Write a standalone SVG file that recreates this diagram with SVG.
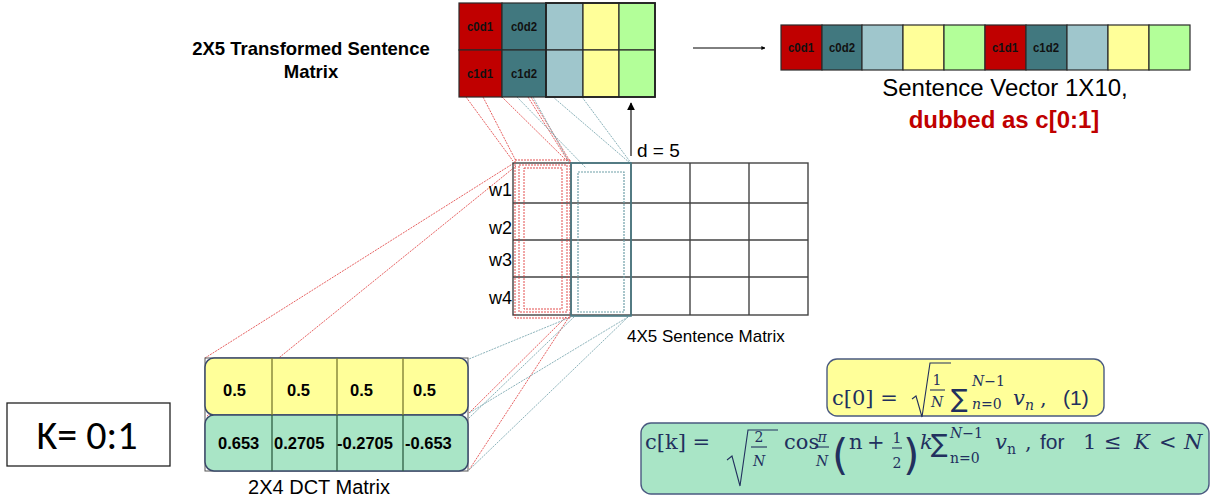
<svg xmlns="http://www.w3.org/2000/svg" width="1215" height="497" viewBox="0 0 1215 497">
<defs>
<style>
.sans{font-family:"Liberation Sans",Arial,sans-serif;fill:#000}
.cell{stroke:#2a2a2a;stroke-width:1.2}
.ct{font-family:"Liberation Sans",Arial,sans-serif;font-weight:bold;font-size:13px;text-anchor:middle;fill:#111}
.grid{stroke:#444;stroke-width:1.4;fill:none}
.rd{stroke:#e03a3a;stroke-width:0.8;stroke-dasharray:2 1;fill:none}
.td{stroke:#6f9fa8;stroke-width:0.8;stroke-dasharray:2 1;fill:none}
.val{font-family:"Liberation Sans",Arial,sans-serif;font-weight:bold;font-size:16.5px;fill:#000}
.m{font-family:"DejaVu Serif","DejaVu Sans",serif;fill:#22305e;font-size:21px}
.ms{font-family:"DejaVu Serif","DejaVu Sans",serif;fill:#22305e;font-size:14px}
.sum{font-family:"DejaVu Sans",sans-serif;fill:#22305e;font-size:25px}
.par{font-family:"DejaVu Sans",sans-serif;fill:#22305e;font-size:42px}
.fl{stroke:#22305e;stroke-width:1.1;fill:none}
.ms2{font-family:"Liberation Sans",Arial,sans-serif;fill:#22305e;font-size:21px}
</style>
<marker id="ah" viewBox="0 0 10 10" refX="9" refY="5" markerWidth="7" markerHeight="7" orient="auto"><path d="M0,0 L10,5 L0,10 z" fill="#000"/></marker>
<marker id="ahs" viewBox="0 0 10 10" refX="9" refY="5" markerWidth="4" markerHeight="4" orient="auto"><path d="M0,0 L10,5 L0,10 z" fill="#000"/></marker>
</defs>
<rect width="1215" height="497" fill="#fff"/>

<g id="connectors">
<line class="rd" x1="466" y1="97" x2="513" y2="161"/>
<line class="rd" x1="483" y1="97" x2="516" y2="161"/>
<line class="rd" x1="502" y1="97" x2="567" y2="161"/>
<line class="rd" x1="528" y1="97" x2="568" y2="161"/>
<line class="rd" x1="531" y1="97" x2="571" y2="163"/>
<line class="td" x1="517" y1="97" x2="586" y2="168"/>
<line class="td" x1="533" y1="97" x2="569" y2="162"/>
<line class="td" x1="553" y1="97" x2="630" y2="163"/>
<line class="td" x1="582" y1="97" x2="631" y2="163"/>
<line class="rd" x1="205" y1="358" x2="514" y2="163"/>
<line class="rd" x1="207" y1="416" x2="516" y2="166"/>
<line class="rd" x1="566" y1="317" x2="469" y2="413"/>
<line class="rd" x1="569" y1="317" x2="469" y2="470"/>
<line class="td" x1="571" y1="317" x2="469" y2="359"/>
<line class="td" x1="574" y1="317" x2="469" y2="418"/>
<line class="td" x1="628" y1="317" x2="469" y2="413"/>
<line class="td" x1="628" y1="317" x2="469" y2="470"/>
<line x1="631" y1="156" x2="631" y2="103" stroke="#000" stroke-width="1.1" marker-end="url(#ah)"/>
<line x1="693" y1="48" x2="765" y2="48" stroke="#000" stroke-width="1" marker-end="url(#ahs)"/>
</g>

<g id="transformed-matrix">
<rect class="cell" x="459" y="3" width="43" height="47" fill="#c00000"/>
<rect class="cell" x="502" y="3" width="44" height="47" fill="#41787f"/>
<rect class="cell" x="546" y="3" width="37" height="47" fill="#9fc6cc"/>
<rect class="cell" x="583" y="3" width="36" height="47" fill="#ffff99"/>
<rect class="cell" x="619" y="3" width="36" height="47" fill="#b3ff99"/>
<rect class="cell" x="459" y="50" width="43" height="47" fill="#c00000"/>
<rect class="cell" x="502" y="50" width="44" height="47" fill="#41787f"/>
<rect class="cell" x="546" y="50" width="37" height="47" fill="#9fc6cc"/>
<rect class="cell" x="583" y="50" width="36" height="47" fill="#ffff99"/>
<rect class="cell" x="619" y="50" width="36" height="47" fill="#b3ff99"/>
<rect x="546" y="3" width="109" height="94" fill="none" stroke="#222" stroke-width="1.8"/>
<text class="ct" x="480" y="31" textLength="26" lengthAdjust="spacingAndGlyphs">c0d1</text>
<text class="ct" x="524" y="31" textLength="26" lengthAdjust="spacingAndGlyphs">c0d2</text>
<text class="ct" x="480" y="78" textLength="26" lengthAdjust="spacingAndGlyphs">c1d1</text>
<text class="ct" x="524" y="78" textLength="26" lengthAdjust="spacingAndGlyphs">c1d2</text>
<text class="sans" x="311" y="55" font-size="18.5" font-weight="bold" text-anchor="middle">2X5 Transformed Sentence</text>
<text class="sans" x="311" y="78" font-size="18.5" font-weight="bold" text-anchor="middle">Matrix</text>
</g>

<g id="sentence-vector">
<rect class="cell" x="781" y="25" width="41" height="45" fill="#c00000"/>
<rect class="cell" x="822" y="25" width="40" height="45" fill="#41787f"/>
<rect class="cell" x="862" y="25" width="41" height="45" fill="#9fc6cc"/>
<rect class="cell" x="903" y="25" width="41" height="45" fill="#ffff99"/>
<rect class="cell" x="944" y="25" width="41" height="45" fill="#b3ff99"/>
<rect class="cell" x="985" y="25" width="41" height="45" fill="#c00000"/>
<rect class="cell" x="1026" y="25" width="41" height="45" fill="#41787f"/>
<rect class="cell" x="1067" y="25" width="41" height="45" fill="#9fc6cc"/>
<rect class="cell" x="1108" y="25" width="41" height="45" fill="#ffff99"/>
<rect class="cell" x="1149" y="25" width="41" height="45" fill="#b3ff99"/>
<text class="ct" x="801" y="52" textLength="26" lengthAdjust="spacingAndGlyphs">c0d1</text>
<text class="ct" x="842" y="52" textLength="26" lengthAdjust="spacingAndGlyphs">c0d2</text>
<text class="ct" x="1005" y="52" textLength="26" lengthAdjust="spacingAndGlyphs">c1d1</text>
<text class="ct" x="1046" y="52" textLength="26" lengthAdjust="spacingAndGlyphs">c1d2</text>
<text class="sans" x="1005" y="96" font-size="24" text-anchor="middle">Sentence Vector 1X10,</text>
<text class="sans" x="1004" y="128" font-size="24" font-weight="bold" text-anchor="middle" style="fill:#c00000">dubbed as c[0:1]</text>
</g>

<g id="sentence-matrix">
<rect class="grid" x="513" y="163" width="295" height="152"/>
<path class="grid" d="M513,203H808M513,240H808M513,277H808M571,163V315M631,163V315M690,163V315M749,163V315"/>
<rect x="515" y="160" width="55" height="158" fill="none" stroke="#e03a3a" stroke-width="0.9" stroke-dasharray="2 1"/>
<rect x="519" y="165" width="48" height="147" fill="none" stroke="#e03a3a" stroke-width="0.9" stroke-dasharray="2 1"/>
<rect x="524" y="168" width="38" height="141" fill="none" stroke="#e03a3a" stroke-width="0.9" stroke-dasharray="2 1"/>
<rect x="571" y="163" width="60" height="153" fill="none" stroke="#4a7c86" stroke-width="1.6"/>
<rect x="578" y="172" width="46" height="140" fill="none" stroke="#6f9fa8" stroke-width="1.2" stroke-dasharray="2 1"/>
<text class="sans" x="512" y="196" font-size="18" text-anchor="end">w1</text>
<text class="sans" x="512" y="234" font-size="18" text-anchor="end">w2</text>
<text class="sans" x="512" y="266" font-size="18" text-anchor="end">w3</text>
<text class="sans" x="512" y="304" font-size="18" text-anchor="end">w4</text>
<text class="sans" x="637" y="157" font-size="19">d = 5</text>
<text class="sans" x="627" y="342" font-size="17">4X5 Sentence Matrix</text>
</g>

<g id="dct-matrix">
<rect x="205" y="358" width="263" height="113" fill="none" stroke="#555" stroke-width="1"/>
<rect x="205" y="358" width="263" height="57" rx="9" fill="#ffff99" stroke="#3b4a6b" stroke-width="1.5"/>
<rect x="205" y="415" width="263" height="56" rx="9" fill="#a9e5c6" stroke="#3b4a6b" stroke-width="1.5"/>
<path d="M272,358V415M337,358V415M403,358V415" stroke="#7a7a30" stroke-width="1.3"/>
<path d="M272,415V471M337,415V471M403,415V471" stroke="#2f5f44" stroke-width="1.3"/>
<text class="val" x="223" y="396">0.5</text>
<text class="val" x="287" y="396">0.5</text>
<text class="val" x="350" y="396">0.5</text>
<text class="val" x="413" y="396">0.5</text>
<text class="val" x="218" y="449">0.653</text>
<text class="val" x="274" y="449">0.2705</text>
<text class="val" x="337" y="449">-0.2705</text>
<text class="val" x="405" y="449">-0.653</text>
<text class="sans" x="319" y="494" font-size="20" text-anchor="middle">2X4 DCT Matrix</text>
</g>

<g id="k-box">
<rect x="7" y="403" width="163" height="63" fill="#fff" stroke="#222" stroke-width="1.3"/>
<text x="87" y="449" font-family="Carlito,Lato,sans-serif" font-size="40" text-anchor="middle" fill="#000">K= 0:1</text>
</g>

<g id="formula-c0">
<rect x="827" y="359" width="277" height="57" rx="10" fill="#ffff99" stroke="#4a5a80" stroke-width="1.4"/>
<text class="m" x="832" y="405">c[0] =</text>
<polyline class="fl" points="912,399 916,396 922,417 930,363 951,363"/>
<text class="ms" x="937" y="385" text-anchor="middle">1</text>
<line class="fl" x1="930" y1="390" x2="945" y2="390"/>
<text class="ms" x="937" y="407" text-anchor="middle" font-style="italic">N</text>
<text class="sum" x="951" y="407">∑</text>
<text class="ms" x="972" y="386"><tspan font-style="italic">N</tspan>−1</text>
<text class="ms" x="972" y="409"><tspan font-style="italic">n</tspan>=0</text>
<text class="m" x="1013" y="405" font-style="italic">v</text>
<text class="ms" x="1025" y="410" font-style="italic">n</text>
<text class="m" x="1040" y="405">,</text>
<text class="ms2" x="1063" y="405">(1)</text>
</g>

<g id="formula-ck">
<rect x="641" y="423" width="568" height="71" rx="10" fill="#a9e5c6" stroke="#4a5a80" stroke-width="1.4"/>
<text class="m" x="645" y="449">c[k] =</text>
<polyline class="fl" points="727,460 732,456 740,486 748,430 778,430"/>
<text class="ms" x="759" y="442" text-anchor="middle">2</text>
<line class="fl" x1="751" y1="447" x2="767" y2="447"/>
<text class="ms" x="759" y="466" text-anchor="middle" font-style="italic">N</text>
<text class="m" x="784" y="449">cos</text>
<text class="ms" x="822" y="442" text-anchor="middle" font-style="italic">π</text>
<line class="fl" x1="815" y1="447" x2="829" y2="447"/>
<text class="ms" x="822" y="466" text-anchor="middle" font-style="italic">N</text>
<text class="par" x="832" y="470">(</text>
<text class="m" x="849" y="449">n</text>
<text class="m" x="867" y="449">+</text>
<text class="ms" x="897" y="443" text-anchor="middle">1</text>
<line class="fl" x1="892" y1="448" x2="902" y2="448"/>
<text class="ms" x="897" y="468" text-anchor="middle">2</text>
<text class="par" x="903" y="470">)</text>
<text class="m" x="920" y="449" font-style="italic">k</text>
<text class="sum" x="931" y="452">∑</text>
<text class="ms" x="950" y="438"><tspan font-style="italic">N</tspan>−1</text>
<text class="ms" x="950" y="463">n=0</text>
<text class="m" x="995" y="449" font-style="italic">v</text>
<text class="ms" x="1007" y="454">n</text>
<text class="m" x="1025" y="449">,</text>
<text class="ms2" x="1040" y="449">for</text>
<text class="m" x="1083" y="449">1</text>
<text class="m" x="1104" y="449">≤</text>
<text class="m" x="1134" y="449" font-style="italic">K</text>
<text class="m" x="1159" y="449">&lt;</text>
<text class="m" x="1184" y="449" font-style="italic">N</text>
</g>
</svg>
